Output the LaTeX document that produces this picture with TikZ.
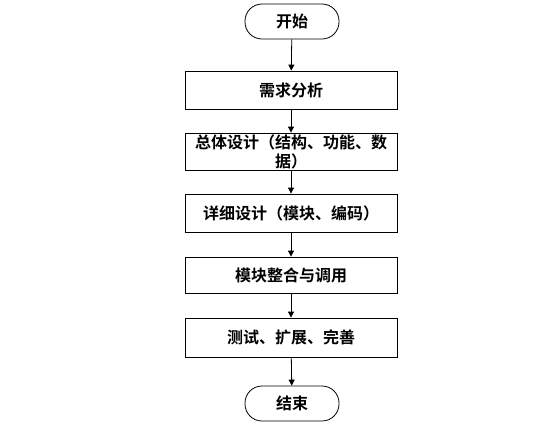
\documentclass[tikz,border=0pt]{standalone}
\usepackage{fontspec}
\newfontfamily\cjk{Noto Sans CJK SC}[BoldFont={Noto Sans CJK SC Bold}]
\usetikzlibrary{arrows.meta}
\begin{document}
\begin{tikzpicture}[x=1pt,y=-1pt,
  every node/.style={font=\cjk\bfseries\fontsize{16}{19}\selectfont},
  stepbox/.style={draw,line width=0.8pt,minimum width=212pt,minimum height=37pt,inner sep=0pt},
  terminal/.style={draw,line width=0.8pt,rounded corners=17pt,minimum width=94pt,minimum height=35pt,inner sep=0pt},
  flow/.style={line width=0.8pt,-{Triangle[length=6pt,width=6pt]}}]
\useasboundingbox (0,0) rectangle (556,429);
% Flow chart
\node[terminal] (start) at (292,21.5) {开始};
\node[stepbox,minimum height=38pt] (need) at (291,90) {需求分析};
\node[stepbox,align=center] (overall) at (291,151.5) {总体设计（结构、功能、数\\据）};
\node[stepbox,minimum height=38pt] (detail) at (291,213) {详细设计（模块、编码）};
\node[stepbox,minimum height=36pt] (merge) at (291,275) {模块整合与调用};
\node[stepbox,minimum height=39pt] (test) at (291,337.5) {测试、扩展、完善};
\node[terminal] (stop) at (292,403.5) {结束};
\draw[flow] (start) -- (need);
\draw[flow] (need) -- (overall);
\draw[flow] (overall) -- (detail);
\draw[flow] (detail) -- (merge);
\draw[flow] (merge) -- (test);
\draw[flow] (test) -- (stop);
\end{tikzpicture}
\end{document}
